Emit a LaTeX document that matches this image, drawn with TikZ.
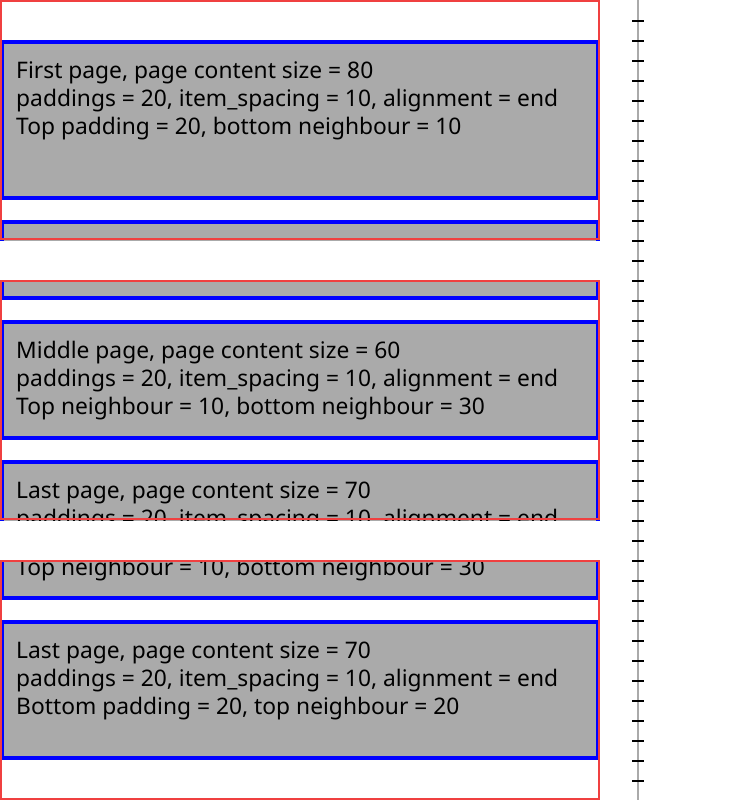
\documentclass[tikz,border=0pt]{standalone}
\usepackage{fontspec}
\setmainfont{Noto Sans}
\definecolor{frameRed}{RGB}{240,64,64}
\definecolor{itemGray}{RGB}{170,170,170}
\definecolor{itemBlue}{RGB}{0,0,255}
\definecolor{rulerGray}{RGB}{170,170,170}
\begin{document}
\begin{tikzpicture}[x=1pt,y=-1pt,
  itembox/.style={fill=itemGray, draw=itemBlue, line width=4pt},
  pageframe/.style={draw=frameRed, line width=2pt},
  itemtext/.style={anchor=base west, inner sep=0pt, text=black,
    font=\fontsize{22.8}{28}\selectfont},
  rulerline/.style={draw=rulerGray, line width=2pt},
  rulertick/.style={draw=black, line width=2pt}]
\useasboundingbox (0,0) rectangle (750,800);

% ---- page 1 ----
\begin{scope}
  \clip (0,0) rectangle (600,240);
  \path[itembox] (2,42) rectangle (598,198);
  \node[itemtext] (p1a) at (16,78)  {First page, page content size = 80};
  \node[itemtext] (p1b) at (16,106) {paddings = 20, item\_spacing = 10, alignment = end};
  \node[itemtext] (p1c) at (16,134) {Top padding = 20, bottom neighbour = 10};
  \path[itembox] (2,222) rectangle (598,300);
\end{scope}
\path[pageframe] (1,1) rectangle (599,239);

% ---- page 2 ----
\begin{scope}
  \clip (0,280) rectangle (600,520);
  \path[itembox] (2,250) rectangle (598,298);
  \path[itembox] (2,322) rectangle (598,438);
  \node[itemtext] (p2a) at (16,358) {Middle page, page content size = 60};
  \node[itemtext] (p2b) at (16,386) {paddings = 20, item\_spacing = 10, alignment = end};
  \node[itemtext] (p2c) at (16,414) {Top neighbour = 10, bottom neighbour = 30};
  \path[itembox] (2,462) rectangle (598,560);
  \node[itemtext] (p2d) at (16,498) {Last page, page content size = 70};
  \node[itemtext] (p2e) at (16,526) {paddings = 20, item\_spacing = 10, alignment = end};
\end{scope}
\path[pageframe] (1,281) rectangle (599,519);

% ---- page 3 ----
\begin{scope}
  \clip (0,560) rectangle (600,800);
  \path[itembox] (2,530) rectangle (598,598);
  \node[itemtext] (p3a) at (16,575) {Top neighbour = 10, bottom neighbour = 30};
  \path[itembox] (2,622) rectangle (598,758);
  \node[itemtext] (p3b) at (16,658) {Last page, page content size = 70};
  \node[itemtext] (p3c) at (16,686) {paddings = 20, item\_spacing = 10, alignment = end};
  \node[itemtext] (p3d) at (16,714) {Bottom padding = 20, top neighbour = 20};
\end{scope}
\path[pageframe] (1,561) rectangle (599,799);

% ---- ruler ----
\coordinate (rtop) at (638,0);
\coordinate (rbot) at (638,800);
\path[rulerline] (rtop) -- (rbot);
\foreach \k in {0,...,38} {
  \coordinate (tl\k) at (632,21+20*\k);
  \coordinate (tr\k) at (644,21+20*\k);
  \path[rulertick] (tl\k) -- (tr\k);
}
\end{tikzpicture}
\end{document}
